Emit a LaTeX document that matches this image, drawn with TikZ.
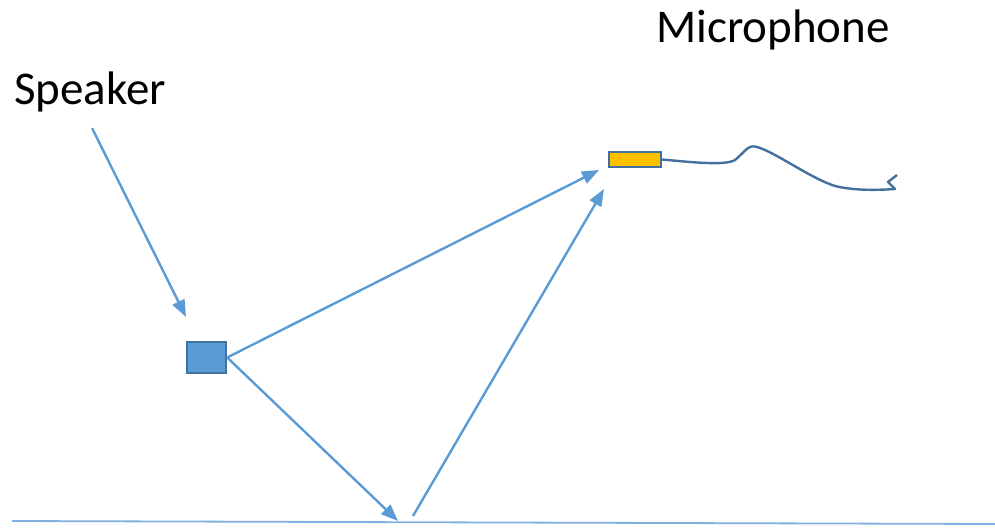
\documentclass[tikz,border=0pt]{standalone}
\usepackage{fontspec}
\setmainfont{Carlito}
\usetikzlibrary{arrows.meta}
\definecolor{arr}{HTML}{5B9BD5}
\definecolor{boxline}{HTML}{41719C}
\definecolor{micfill}{HTML}{FFC000}
\definecolor{ground}{HTML}{7FB0DF}
\tikzset{
  lbl/.style={font=\fontsize{47}{56}\selectfont, text=black, inner sep=0pt},
  ray/.style={draw=arr, line width=2.4pt, -{Triangle[length=17pt,width=13pt]}},
  dev/.style={draw=boxline, line width=2.4pt, inner sep=0pt},
}
\begin{document}
\begin{tikzpicture}[x=1pt,y=-1pt]
\useasboundingbox (0,0) rectangle (995,527);
\node[lbl] (spk) at (90,92) {Speaker};
\node[lbl] (mic) at (773,30) {Microphone};
\node[dev, fill=arr, minimum width=39pt, minimum height=31pt] (sbox) at (206.5,357.5) {};
\node[dev, fill=micfill, minimum width=52pt, minimum height=15pt] (mbox) at (635,159.5) {};
\coordinate (s0) at (92,128);
\coordinate (s1) at (186,317);
\coordinate (m1) at (599,170);
\coordinate (r1) at (398,521);
\coordinate (r0) at (413,516);
\coordinate (m2) at (604,189);
\coordinate (g0) at (12,521);
\coordinate (g1) at (995,524);
\coordinate (c1) at (897,175);
\draw[ray] (s0) -- (s1);
\draw[ray] (sbox.east) -- (m1);
\draw[ray] (sbox.east) -- (r1);
\draw[ray] (r0) -- (m2);
\draw[ground, line width=1.8pt] (g0) -- (g1);
\draw[boxline, line width=2.4pt, line join=round]
  (mbox.east) .. controls (690,162) and (725,166) .. (735,160)
  .. controls (745,152) and (748,144) .. (757,147)
  .. controls (775,152) and (810,178) .. (835,186)
  .. controls (855,191) and (880,190) .. (895,189)
  -- (888,182) -- (c1);
\end{tikzpicture}
\end{document}
